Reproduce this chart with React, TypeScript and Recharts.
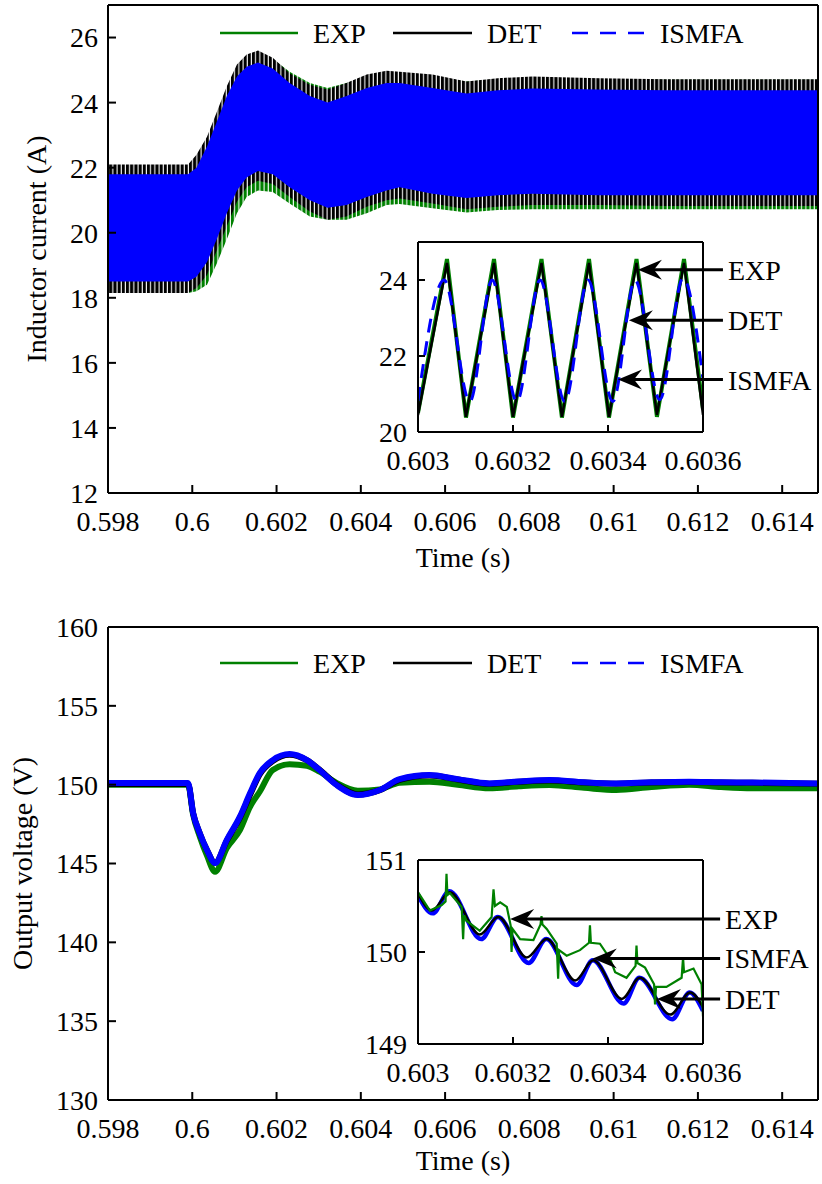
import { ComposedChart, Area, Line, XAxis, YAxis, CartesianGrid, ReferenceLine, Label } from 'recharts';

const FONT = '"Liberation Serif", "Times New Roman", Times, serif';
const GREEN = '#008000';
const BLUE = '#0000ff';
const BLACK = '#000000';

// ── Axes ──────────────────────────────────────────────────────────────────────

const X_TICKS = [0.598, 0.6, 0.602, 0.604, 0.606, 0.608, 0.61, 0.612, 0.614];
const X_DOMAIN = [0.598, 0.61485];
const I_TICKS = [12, 14, 16, 18, 20, 22, 24, 26];
const V_TICKS = [130, 135, 140, 145, 150, 155, 160];
const INSET_X_TICKS = [0.603, 0.6032, 0.6034, 0.6036];
const INSET_X_DOMAIN = [0.603, 0.6036];

// ── Inductor current: envelope of the switching ripple band ──────────────────

const bandTime = [0.598, 0.5999, 0.6001, 0.60035, 0.60058, 0.60082, 0.60106, 0.60129, 0.60156, 0.60191, 0.60231, 0.60279, 0.60321, 0.60366, 0.60414, 0.60461, 0.60492, 0.6057, 0.60651, 0.60725, 0.60807, 0.60966, 0.61125, 0.61281, 0.61485];
const expHigh = [22.05, 22.05, 22.3, 22.8, 23.55, 24.35, 25.0, 25.35, 25.5, 25.35, 24.95, 24.6, 24.45, 24.6, 24.8, 24.9, 24.88, 24.8, 24.65, 24.72, 24.75, 24.72, 24.7, 24.7, 24.7];
const expLow = [18.15, 18.15, 18.2, 18.4, 19.05, 19.8, 20.6, 21.1, 21.3, 21.25, 20.9, 20.5, 20.4, 20.4, 20.6, 20.85, 20.88, 20.75, 20.62, 20.7, 20.72, 20.72, 20.72, 20.72, 20.72];
const detHigh = [22.1, 22.1, 22.4, 22.95, 23.7, 24.5, 25.17, 25.48, 25.6, 25.38, 24.9, 24.55, 24.4, 24.6, 24.86, 24.98, 24.95, 24.86, 24.65, 24.75, 24.8, 24.75, 24.72, 24.72, 24.72];
const detLow = [18.15, 18.15, 18.3, 18.7, 19.45, 20.2, 20.95, 21.4, 21.6, 21.5, 21.1, 20.65, 20.4, 20.5, 20.8, 21.0, 21.05, 20.9, 20.72, 20.8, 20.85, 20.85, 20.82, 20.82, 20.82];
const ismfaHigh = [21.8, 21.8, 22.0, 22.65, 23.4, 24.2, 24.8, 25.1, 25.23, 25.05, 24.6, 24.2, 24.0, 24.2, 24.45, 24.6, 24.6, 24.45, 24.28, 24.38, 24.43, 24.4, 24.38, 24.38, 24.38];
const ismfaLow = [18.5, 18.5, 18.65, 19.1, 19.8, 20.6, 21.3, 21.7, 21.9, 21.8, 21.4, 21.0, 20.77, 20.85, 21.1, 21.3, 21.4, 21.2, 21.07, 21.15, 21.2, 21.15, 21.15, 21.15, 21.15];

const bandRows = bandTime.map((t, i) => ({
  t,
  exp: [expLow[i], expHigh[i]],
  det: [detLow[i], detHigh[i]],
  ismfa: [ismfaLow[i], ismfaHigh[i]],
}));

// zoomed current (0.603 .. 0.6036 s)
const ziTime = [0.603, 0.603061, 0.603101, 0.60316, 0.6032, 0.60326, 0.603303, 0.60336, 0.603402, 0.60346, 0.603503, 0.60356, 0.6036];
const ziExp = [20.5, 24.55, 20.38, 24.55, 20.38, 24.55, 20.38, 24.55, 20.38, 24.55, 20.4, 24.55, 20.6];
const ziDet = [20.45, 24.45, 20.4, 24.45, 20.4, 24.45, 20.4, 24.45, 20.4, 24.45, 20.45, 24.45, 20.45];
const ziIsmfaTime = [0.603, 0.603055, 0.603109, 0.603156, 0.603208, 0.603257, 0.603309, 0.603358, 0.60341, 0.603457, 0.603509, 0.603558, 0.6036];
const ziIsmfa = [20.82, 24.0, 20.8, 24.0, 20.8, 24.0, 20.8, 24.0, 20.8, 24.0, 20.85, 24.05, 21.4];

// ── Output voltage ────────────────────────────────────────────────────────────

const vTime = [0.598, 0.5999, 0.60002, 0.60018, 0.60035, 0.60054, 0.60082, 0.60113, 0.60137, 0.6016, 0.60191, 0.60231, 0.60272, 0.60302, 0.60343, 0.60393, 0.60445, 0.60492, 0.60563, 0.6063, 0.60705, 0.60775, 0.60848, 0.6093, 0.61006, 0.6109, 0.61179, 0.61255, 0.61329, 0.61485];
const vExp = [150.0, 150.0, 148.1, 146.7, 145.5, 144.48, 145.98, 147.12, 148.6, 149.55, 150.93, 151.3, 151.2, 150.82, 150.1, 149.61, 149.7, 150.12, 150.19, 150.0, 149.77, 149.9, 149.98, 149.8, 149.66, 149.85, 150.0, 149.85, 149.77, 149.77];
const vDet = [150.05, 150.05, 148.2, 146.9, 145.85, 145.05, 146.45, 147.9, 149.35, 150.65, 151.5, 151.9, 151.55, 150.95, 150.0, 149.38, 149.65, 150.3, 150.58, 150.33, 150.06, 150.18, 150.26, 150.13, 150.06, 150.13, 150.17, 150.13, 150.12, 150.06];
const vIsmfa = [150.1, 150.1, 148.2, 146.9, 145.85, 145.03, 146.5, 147.97, 149.45, 150.73, 151.56, 151.94, 151.56, 150.93, 149.97, 149.34, 149.66, 150.35, 150.61, 150.35, 150.08, 150.2, 150.29, 150.15, 150.08, 150.15, 150.19, 150.15, 150.14, 150.08];

const voltRows = vTime.map((t, i) => ({ t, exp: vExp[i], det: vDet[i], ismfa: vIsmfa[i] }));

// zoomed voltage (0.603 .. 0.6036 s)
const zvExpTime = [0.603, 0.603025, 0.60305, 0.603058, 0.60306, 0.603062, 0.603067, 0.603092, 0.603095, 0.603097, 0.603102, 0.60313, 0.603155, 0.603159, 0.603162, 0.603173, 0.603187, 0.603195, 0.603197, 0.603199, 0.603215, 0.603243, 0.603258, 0.60326, 0.603262, 0.603271, 0.603292, 0.603295, 0.603297, 0.603313, 0.603341, 0.60336, 0.603362, 0.603364, 0.603383, 0.603404, 0.603415, 0.603439, 0.603458, 0.60346, 0.603462, 0.603478, 0.603497, 0.603499, 0.603501, 0.603523, 0.603555, 0.603558, 0.60356, 0.60358, 0.603597, 0.6036];
const zvExp = [150.65, 150.45, 150.51, 150.55, 150.85, 150.62, 150.64, 150.49, 150.14, 150.4, 150.34, 150.23, 150.38, 150.68, 150.5, 150.54, 150.49, 150.29, 150.0, 150.25, 150.14, 150.13, 150.3, 150.39, 150.3, 150.25, 150.09, 149.71, 150.02, 149.96, 150.02, 150.1, 150.29, 150.1, 150.09, 149.93, 149.78, 149.72, 149.85, 150.07, 149.88, 149.83, 149.65, 149.43, 149.62, 149.62, 149.72, 149.94, 149.78, 149.82, 149.65, 149.3];
const zvDetTime = [0.603, 0.603029, 0.603067, 0.60313, 0.603169, 0.603229, 0.603271, 0.603331, 0.603369, 0.603429, 0.603467, 0.603531, 0.603573, 0.6036];
const zvDet = [150.64, 150.45, 150.65, 150.19, 150.38, 149.94, 150.14, 149.69, 149.91, 149.49, 149.72, 149.32, 149.56, 149.4];
const zvIsmfaTime = [0.603, 0.603031, 0.603066, 0.603133, 0.603168, 0.603233, 0.60327, 0.603334, 0.603368, 0.603433, 0.603466, 0.603535, 0.603572, 0.6036];
const zvIsmfa = [150.62, 150.42, 150.66, 150.14, 150.38, 149.88, 150.14, 149.64, 149.91, 149.44, 149.72, 149.27, 149.56, 149.36];

const toPoints = (ts: number[], vs: number[]) => ts.map((t, i) => ({ t, v: vs[i] }));

// ── Shared styles ─────────────────────────────────────────────────────────────

const axisStroke = { stroke: '#000', strokeWidth: 2 };
const tickText = { fill: '#000', fontSize: 28, fontFamily: FONT };

function arrowShape(text: string) {
  return (p: any) => {
    const { x1, y1, x2 } = p;
    return (
      <g>
        <line x1={x1 + 14} y1={y1} x2={x2} y2={y1} stroke="#000" strokeWidth={3} />
        <path d={`M${x1},${y1} L${x1 + 24},${y1 - 10} L${x1 + 16},${y1} L${x1 + 24},${y1 + 10} Z`} fill="#000" />
        <text x={x2 + 5} y={y1 + 10} fontSize={28} fontFamily={FONT} fill="#000">{text}</text>
      </g>
    );
  };
}

function LegendRow({ top }: { top: number }) {
  return (
    <svg width={822} height={40} style={{ position: 'absolute', left: 0, top, overflow: 'visible' }}>
      <line x1={220} x2={298} y1={20} y2={20} stroke={GREEN} strokeWidth={2.5} />
      <text x={313} y={30} fontSize={28} fontFamily={FONT}>EXP</text>
      <line x1={393} x2={472} y1={20} y2={20} stroke={BLACK} strokeWidth={2.5} />
      <text x={487} y={30} fontSize={28} fontFamily={FONT}>DET</text>
      <line x1={572} x2={648} y1={20} y2={20} stroke={BLUE} strokeWidth={2.5} strokeDasharray="16 12" />
      <text x={660} y={30} fontSize={28} fontFamily={FONT}>ISMFA</text>
    </svg>
  );
}

// ── Inductor current ──────────────────────────────────────────────────────────

function CurrentChart() {
  return (
    <ComposedChart width={822} height={590} data={bandRows} margin={{ top: 4, right: 3, bottom: 0, left: 0 }}>
      <defs>
        <pattern id="detStripes" patternUnits="userSpaceOnUse" width={4.2} height={8}>
          <rect width={4.2} height={8} fill="#fff" />
          <rect width={3.1} height={8} fill={BLACK} />
        </pattern>
        <pattern id="expStripes" patternUnits="userSpaceOnUse" width={4.2} height={8}>
          <rect width={4.2} height={8} fill="#fff" />
          <rect width={3.1} height={8} fill={GREEN} />
        </pattern>
      </defs>
      <XAxis dataKey="t" type="number" domain={X_DOMAIN} ticks={X_TICKS} allowDataOverflow interval={0}
        height={97} tickSize={-8} tickMargin={26} axisLine={axisStroke} tickLine={axisStroke} tick={tickText}>
        <Label value="Time (s)" position="insideBottom" offset={23} fill="#000" fontSize={28} fontFamily={FONT} />
      </XAxis>
      <XAxis xAxisId="top" orientation="top" dataKey="t" type="number" domain={X_DOMAIN} ticks={X_TICKS} allowDataOverflow
        interval={0} height={1} tickSize={-8} axisLine={axisStroke} tickLine={axisStroke} tick={false} />
      <YAxis type="number" domain={[12, 27]} ticks={I_TICKS} allowDataOverflow interval={0} width={108}
        tickSize={-8} tickMargin={18} axisLine={axisStroke} tickLine={axisStroke} tick={tickText}>
        <Label value="Inductor current (A)" angle={-90} position="insideLeft" offset={36}
          style={{ textAnchor: 'middle' }} fill="#000" fontSize={28} fontFamily={FONT} />
      </YAxis>
      <YAxis yAxisId="right" orientation="right" type="number" domain={[12, 27]} ticks={I_TICKS} allowDataOverflow
        interval={0} width={1} tickSize={-8} axisLine={axisStroke} tickLine={axisStroke} tick={false} />
      <Area dataKey="exp" type="linear" stroke="none" fill="url(#expStripes)" fillOpacity={1} isAnimationActive={false} />
      <Area dataKey="det" type="linear" stroke="none" fill="url(#detStripes)" fillOpacity={1} isAnimationActive={false} />
      <Area dataKey="ismfa" type="linear" stroke="none" fill={BLUE} fillOpacity={1} isAnimationActive={false} />
    </ComposedChart>
  );
}

function CurrentInset() {
  return (
    <ComposedChart width={462} height={259} margin={{ top: 20, right: 118, bottom: 0, left: 0 }}>
      <CartesianGrid fill="#fff" stroke="none" horizontal={false} vertical={false} />
      <XAxis dataKey="t" type="number" domain={INSET_X_DOMAIN} ticks={INSET_X_TICKS} allowDataOverflow interval={0}
        height={48} tickSize={-7} tickMargin={25} axisLine={axisStroke} tickLine={axisStroke} tick={tickText} />
      <XAxis xAxisId="top" orientation="top" dataKey="t" type="number" domain={INSET_X_DOMAIN} ticks={INSET_X_TICKS}
        allowDataOverflow interval={0} height={1} tickSize={-7} axisLine={axisStroke} tickLine={axisStroke} tick={false} />
      <YAxis type="number" domain={[20, 25]} ticks={[20, 22, 24]} allowDataOverflow interval={0} width={58}
        tickSize={-7} tickMargin={18} axisLine={axisStroke} tickLine={axisStroke} tick={tickText} />
      <YAxis yAxisId="right" orientation="right" type="number" domain={[20, 25]} ticks={[20, 22, 24]} allowDataOverflow
        interval={0} width={1} tickSize={-7} axisLine={axisStroke} tickLine={axisStroke} tick={false} />
      <Line data={toPoints(ziTime, ziExp)} dataKey="v" type="linear" stroke={GREEN} strokeWidth={4} dot={false} activeDot={false} isAnimationActive={false} />
      <Line data={toPoints(ziTime, ziDet)} dataKey="v" type="linear" stroke={BLACK} strokeWidth={2.5} dot={false} activeDot={false} isAnimationActive={false} />
      <Line data={toPoints(ziIsmfaTime, ziIsmfa)} dataKey="v" type="monotone" stroke={BLUE} strokeWidth={3} strokeDasharray="14 9" dot={false} activeDot={false} isAnimationActive={false} />
      <ReferenceLine segment={[{ x: 0.603463, y: 24.27 }, { x: 0.603642, y: 24.27 }]} ifOverflow="visible" shape={arrowShape('EXP')} />
      <ReferenceLine segment={[{ x: 0.603444, y: 22.94 }, { x: 0.603642, y: 22.94 }]} ifOverflow="visible" shape={arrowShape('DET')} />
      <ReferenceLine segment={[{ x: 0.603421, y: 21.38 }, { x: 0.603642, y: 21.38 }]} ifOverflow="visible" shape={arrowShape('ISMFA')} />
    </ComposedChart>
  );
}

// ── Output voltage ────────────────────────────────────────────────────────────

function VoltageChart() {
  return (
    <ComposedChart width={822} height={584} data={voltRows} margin={{ top: 26, right: 3, bottom: 0, left: 0 }}>
      <XAxis dataKey="t" type="number" domain={X_DOMAIN} ticks={X_TICKS} allowDataOverflow interval={0}
        height={84} tickSize={-8} tickMargin={26} axisLine={axisStroke} tickLine={axisStroke} tick={tickText}>
        <Label value="Time (s)" position="insideBottom" offset={14} fill="#000" fontSize={28} fontFamily={FONT} />
      </XAxis>
      <XAxis xAxisId="top" orientation="top" dataKey="t" type="number" domain={X_DOMAIN} ticks={X_TICKS} allowDataOverflow
        interval={0} height={1} tickSize={-8} axisLine={axisStroke} tickLine={axisStroke} tick={false} />
      <YAxis type="number" domain={[130, 160]} ticks={V_TICKS} allowDataOverflow interval={0} width={108}
        tickSize={-8} tickMargin={18} axisLine={axisStroke} tickLine={axisStroke} tick={tickText}>
        <Label value="Output voltage (V)" angle={-90} position="insideLeft" offset={22}
          style={{ textAnchor: 'middle' }} fill="#000" fontSize={28} fontFamily={FONT} />
      </YAxis>
      <YAxis yAxisId="right" orientation="right" type="number" domain={[130, 160]} ticks={V_TICKS} allowDataOverflow
        interval={0} width={1} tickSize={-8} axisLine={axisStroke} tickLine={axisStroke} tick={false} />
      <Line dataKey="exp" type="monotone" stroke={GREEN} strokeWidth={6} dot={false} activeDot={false} isAnimationActive={false} />
      <Line dataKey="det" type="monotone" stroke={BLACK} strokeWidth={6} dot={false} activeDot={false} isAnimationActive={false} />
      <Line dataKey="ismfa" type="monotone" stroke={BLUE} strokeWidth={6} dot={false} activeDot={false} isAnimationActive={false} />
    </ComposedChart>
  );
}

function VoltageInset() {
  return (
    <ComposedChart width={462} height={253} margin={{ top: 20, right: 118, bottom: 0, left: 0 }}>
      <CartesianGrid fill="#fff" stroke="none" horizontal={false} vertical={false} />
      <XAxis dataKey="t" type="number" domain={INSET_X_DOMAIN} ticks={INSET_X_TICKS} allowDataOverflow interval={0}
        height={48} tickSize={-7} tickMargin={25} axisLine={axisStroke} tickLine={axisStroke} tick={tickText} />
      <XAxis xAxisId="top" orientation="top" dataKey="t" type="number" domain={INSET_X_DOMAIN} ticks={INSET_X_TICKS}
        allowDataOverflow interval={0} height={1} tickSize={-7} axisLine={axisStroke} tickLine={axisStroke} tick={false} />
      <YAxis type="number" domain={[149, 151]} ticks={[149, 150, 151]} allowDataOverflow interval={0} width={58}
        tickSize={-7} tickMargin={18} axisLine={axisStroke} tickLine={axisStroke} tick={tickText} />
      <YAxis yAxisId="right" orientation="right" type="number" domain={[149, 151]} ticks={[149, 150, 151]} allowDataOverflow
        interval={0} width={1} tickSize={-7} axisLine={axisStroke} tickLine={axisStroke} tick={false} />
      <Line data={toPoints(zvIsmfaTime, zvIsmfa)} dataKey="v" type="monotone" stroke={BLUE} strokeWidth={4.5} dot={false} activeDot={false} isAnimationActive={false} />
      <Line data={toPoints(zvDetTime, zvDet)} dataKey="v" type="monotone" stroke={BLACK} strokeWidth={2.5} dot={false} activeDot={false} isAnimationActive={false} />
      <Line data={toPoints(zvExpTime, zvExp)} dataKey="v" type="linear" stroke={GREEN} strokeWidth={2.2} dot={false} activeDot={false} isAnimationActive={false} />
      <ReferenceLine segment={[{ x: 0.603194, y: 150.36 }, { x: 0.603636, y: 150.36 }]} ifOverflow="visible" shape={arrowShape('EXP')} />
      <ReferenceLine segment={[{ x: 0.603368, y: 149.93 }, { x: 0.603636, y: 149.93 }]} ifOverflow="visible" shape={arrowShape('ISMFA')} />
      <ReferenceLine segment={[{ x: 0.603503, y: 149.49 }, { x: 0.603636, y: 149.49 }]} ifOverflow="visible" shape={arrowShape('DET')} />
    </ComposedChart>
  );
}

// ── Page ──────────────────────────────────────────────────────────────────────

export default function App() {
  return (
    <div style={{ position: 'absolute', left: 0, top: 0, width: 822, height: 1184, background: '#fff', fontFamily: FONT }}>
      <div style={{ position: 'absolute', left: 0, top: 0 }}><CurrentChart /></div>
      <div style={{ position: 'absolute', left: 360, top: 221 }}><CurrentInset /></div>
      <LegendRow top={13} />
      <div style={{ position: 'absolute', left: 0, top: 600 }}><VoltageChart /></div>
      <div style={{ position: 'absolute', left: 360, top: 839 }}><VoltageInset /></div>
      <LegendRow top={643} />
    </div>
  );
}
